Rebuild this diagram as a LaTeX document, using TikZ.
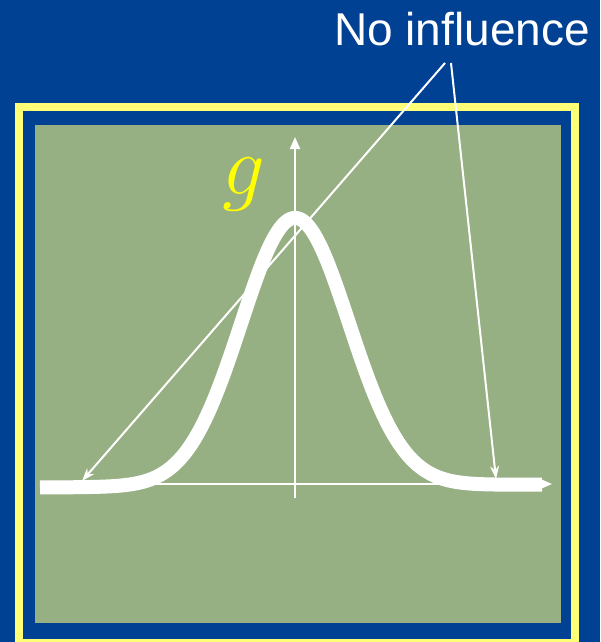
\documentclass[tikz,border=0pt]{standalone}
\usepackage{fontspec}
\newfontfamily\labelfont{Liberation Sans}
\usetikzlibrary{arrows.meta}
\definecolor{bgblue}{RGB}{0,65,148}
\definecolor{frameyellow}{RGB}{255,255,119}
\definecolor{glyphyellow}{RGB}{255,255,0}
\definecolor{panelgreen}{RGB}{150,176,132}
\tikzset{
  axisline/.style={draw=white, line width=2pt, -{Triangle[length=12pt,width=10pt]}},
  pointer/.style={draw=white, line width=2pt, -{Stealth[length=13pt,width=9pt]}},
  curveline/.style={draw=white, line width=14pt, line cap=butt, line join=round},
}
\begin{document}
\begin{tikzpicture}[x=1pt,y=-1pt]
\useasboundingbox (0,0) rectangle (600,642);
\fill[bgblue] (0,0) rectangle (600,642);
\draw[frameyellow, line width=8pt] (19,106.7) rectangle (575,642.7);
\fill[panelgreen] (35,124.7) rectangle (561,622.7);
% axes
\coordinate (xstart) at (40,484);
\coordinate (xend) at (552,484);
\coordinate (ystart) at (295,498);
\coordinate (yend) at (295,137);
\draw[axisline] (xstart) -- (xend);
\draw[axisline] (ystart) -- (yend);
% curve
\draw[curveline] plot[domain=40:542, samples=250, smooth] (\x, {487.5-3*(\x-40)/502-268*exp(-0.5*((\x-295)/54)^2)});
% label g
\node[text=glyphyellow, inner sep=0pt] (g) at (244,185) {\scalebox{3.4}{\fontsize{24.88}{30}\selectfont$g$}};
% text
\node[text=white, font=\labelfont\fontsize{46}{50}\selectfont, anchor=base west, inner sep=0pt] (lbl) at (334,45.5) {No influence};
\coordinate (s1) at (445,63);
\coordinate (s2) at (451,63);
\coordinate (t1) at (82,481);
\coordinate (t2) at (496,479);
\draw[pointer] (s1) -- (t1);
\draw[pointer] (s2) -- (t2);
\end{tikzpicture}
\end{document}
